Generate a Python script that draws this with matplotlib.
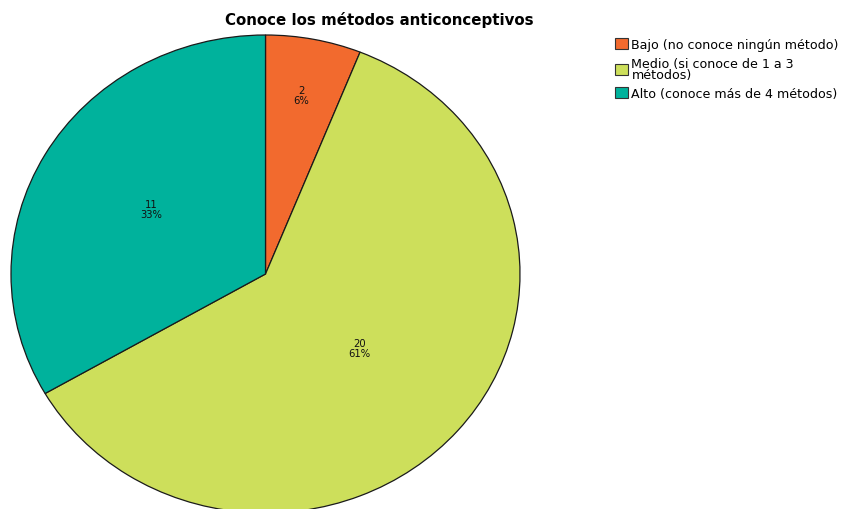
import numpy as np
import matplotlib.pyplot as plt
from matplotlib.patches import Patch

plt.rcParams['font.family'] = ['DejaVu Sans']

categorias = ['Bajo (no conoce ningún método)',
              'Medio (si conoce de 1 a 3\nmétodos)',
              'Alto (conoce más de 4 métodos)']
frecuencias = [2, 20, 11]
colores = ['#F26A2E', '#CDDF5B', '#00B29C']
# distancia radial de cada etiqueta dentro de su sector
dist_etiqueta = [0.75, 0.49, 0.52]

total = sum(frecuencias)

fig = plt.figure(figsize=(8.45, 5.1), dpi=100)
ax = fig.add_axes([11 / 845, -4 / 510, 509 / 845, 478 / 510])

wedges, _ = ax.pie(frecuencias, colors=colores, startangle=90, counterclock=False,
                   wedgeprops=dict(edgecolor='#1a1a1a', linewidth=0.9))
ax.set_aspect('auto')
ax.set_xlim(-1, 1)
ax.set_ylim(-1, 1)

for w, n, d in zip(wedges, frecuencias, dist_etiqueta):
    ang = np.deg2rad((w.theta1 + w.theta2) / 2)
    pct = round(n / total * 100)
    ax.text(d * np.cos(ang), d * np.sin(ang) + 0.012, f'{n}\n{pct}%',
            ha='center', va='center', fontsize=7.2, linespacing=0.95, color='#111111')

fig.text(379 / 845, 1 - 20 / 510, 'Conoce los métodos anticonceptivos',
         ha='center', va='center', fontsize=10.8, fontweight='bold')

handles = [Patch(facecolor=c, edgecolor='#333333', linewidth=0.8) for c in colores]
leg = fig.legend(handles, categorias, loc='upper left', bbox_to_anchor=(615 / 845, 1 - 39 / 510),
                 frameon=False, fontsize=9.1, handlelength=1.0, handleheight=1.0,
                 handletextpad=0.3, labelspacing=0.45, borderaxespad=0, borderpad=0)
for t in leg.get_texts():
    t.set_linespacing(0.82)

fig.savefig('out.png', dpi=100)
